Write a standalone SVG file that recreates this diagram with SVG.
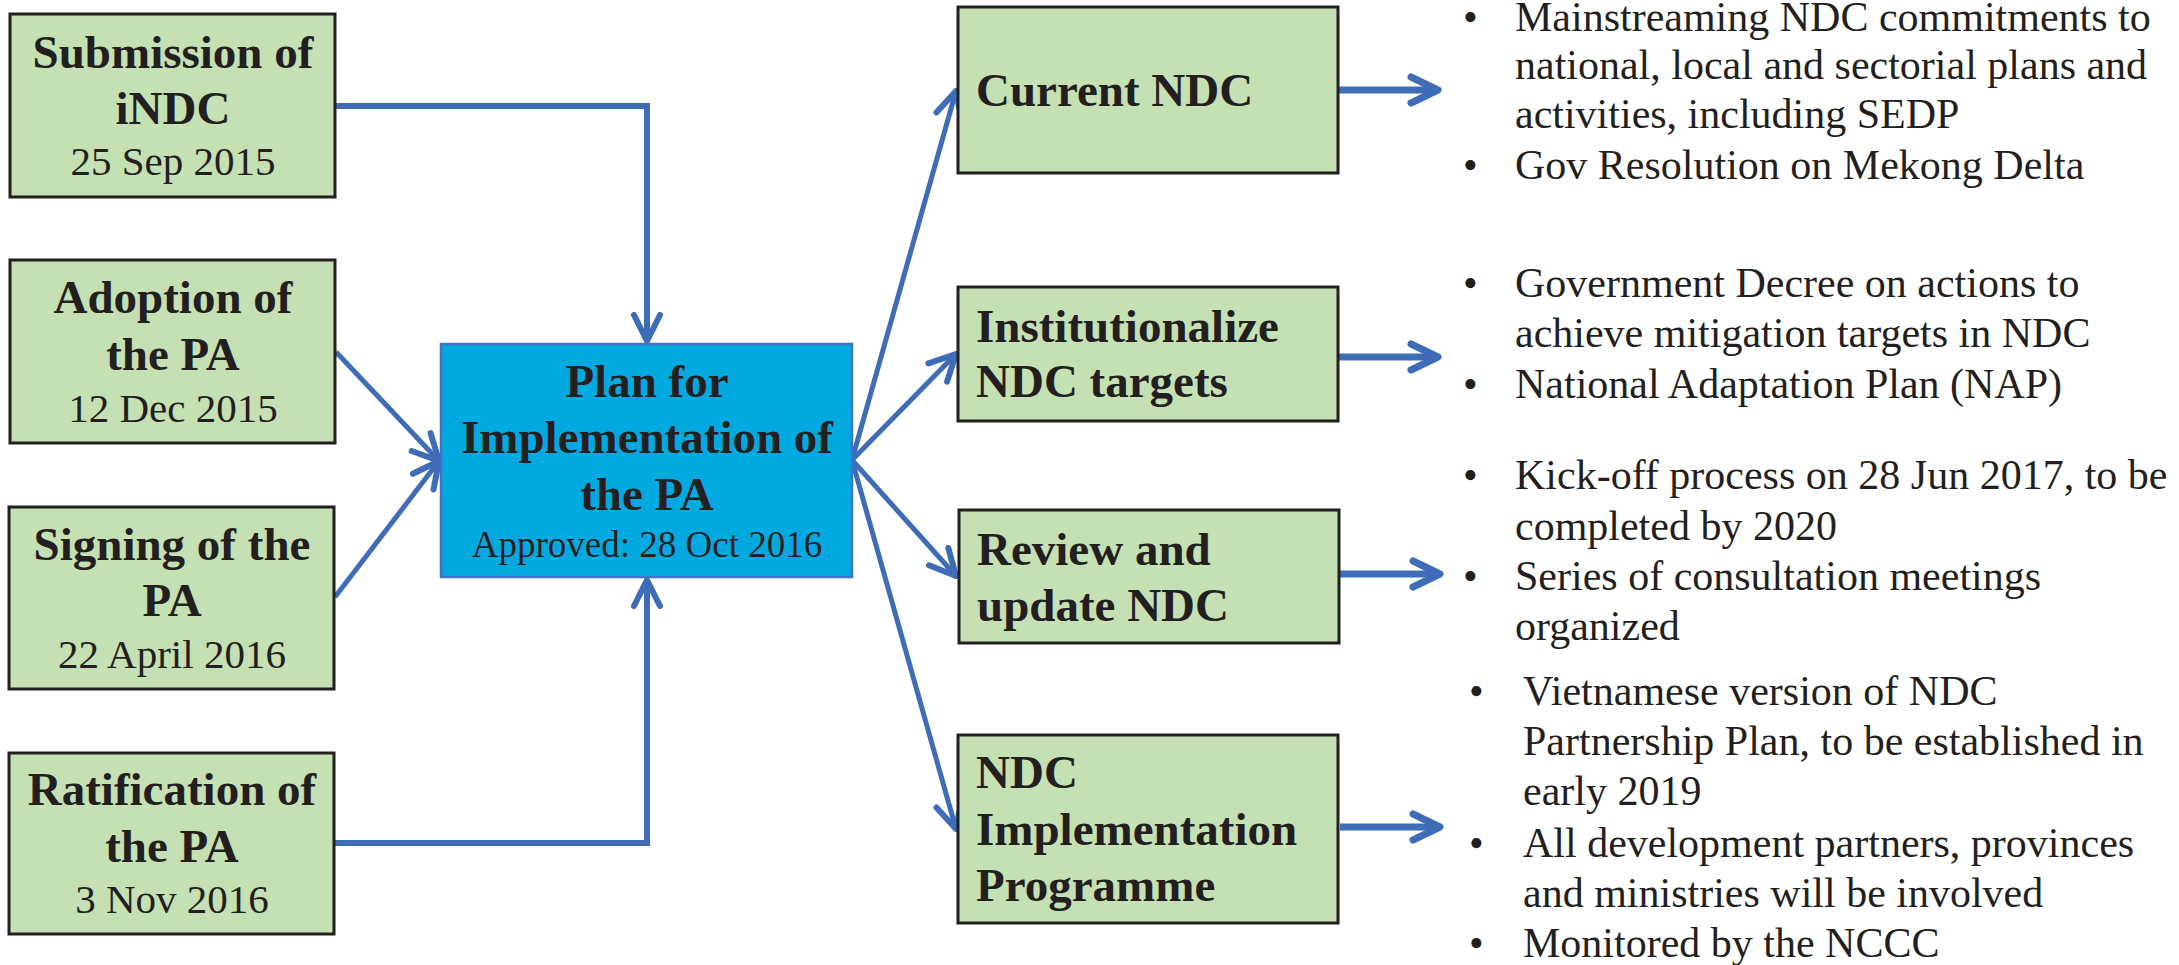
<svg xmlns="http://www.w3.org/2000/svg" width="2179" height="965" viewBox="0 0 2179 965">
<defs>
<style>
.box{fill:#C5E0B3;stroke:#231F20;stroke-width:3}
.main{fill:#00AAE1;stroke:#4472C4;stroke-width:2.5}
.b{font-family:"Liberation Serif","Times New Roman",serif;font-weight:bold;font-size:47px;fill:#231F20}
.d{font-family:"Liberation Serif","Times New Roman",serif;font-size:41px;fill:#231F20}
.ap{font-family:"Liberation Serif","Times New Roman",serif;font-size:37px;fill:#231F20}
.t{font-family:"Liberation Serif","Times New Roman",serif;font-size:42px;fill:#231F20}
.c{text-anchor:middle}
.ln{fill:none;stroke:#3F6CB7;stroke-width:6;marker-end:url(#arr)}
.dg{fill:none;stroke:#3F6CB7;stroke-width:5;marker-end:url(#arr)}
.hz{fill:none;stroke:#3F6CB7;stroke-width:7;marker-end:url(#arr2)}
</style>
<marker id="arr" markerUnits="userSpaceOnUse" viewBox="-32 -18 36 36" markerWidth="36" markerHeight="36" refX="0" refY="0" orient="auto" overflow="visible">
<path d="M-26,-13 L0,0 L-26,13" fill="none" stroke="#3F6CB7" stroke-width="6" stroke-linecap="round" stroke-linejoin="round"/>
</marker>
<marker id="arr2" markerUnits="userSpaceOnUse" viewBox="-34 -18 38 36" markerWidth="38" markerHeight="36" refX="0" refY="0" orient="auto" overflow="visible">
<path d="M-27,-13 L0,0 L-27,13" fill="none" stroke="#3F6CB7" stroke-width="7" stroke-linecap="round" stroke-linejoin="round"/>
</marker>
</defs>
<rect width="2179" height="965" fill="#FFFFFF"/>

<g id="connectors">
<polyline class="ln" points="336,106 647,106 647,341"/>
<polyline class="ln" points="335,843 647,843 647,580"/>
<line class="dg" x1="336" y1="352" x2="439" y2="461"/>
<line class="dg" x1="335" y1="597" x2="439" y2="461"/>
<line class="dg" x1="852" y1="460" x2="956" y2="91"/>
<line class="dg" x1="852" y1="460" x2="956" y2="354"/>
<line class="dg" x1="852" y1="460" x2="956" y2="576"/>
<line class="dg" x1="852" y1="460" x2="956" y2="829"/>
<line class="hz" x1="1338" y1="90" x2="1438" y2="90"/>
<line class="hz" x1="1338" y1="357" x2="1438" y2="357"/>
<line class="hz" x1="1340" y1="574" x2="1440" y2="574"/>
<line class="hz" x1="1340" y1="827" x2="1440" y2="827"/>
</g>

<g id="node-submission">
<rect class="box" x="10" y="14" width="325" height="183"/>
<text class="b c" x="173" y="68">Submission of</text>
<text class="b c" x="173" y="124">iNDC</text>
<text class="d c" x="173" y="175">25 Sep 2015</text>
</g>

<g id="node-adoption">
<rect class="box" x="10" y="260" width="325" height="183"/>
<text class="b c" x="173" y="313">Adoption of</text>
<text class="b c" x="173" y="370">the PA</text>
<text class="d c" x="173" y="422">12 Dec 2015</text>
</g>

<g id="node-signing">
<rect class="box" x="9" y="507" width="325" height="182"/>
<text class="b c" x="172" y="560">Signing of the</text>
<text class="b c" x="172" y="616">PA</text>
<text class="d c" x="172" y="668">22 April 2016</text>
</g>

<g id="node-ratification">
<rect class="box" x="9" y="753" width="325" height="181"/>
<text class="b c" x="172" y="805">Ratification of</text>
<text class="b c" x="172" y="862">the PA</text>
<text class="d c" x="172" y="913">3 Nov 2016</text>
</g>

<g id="node-plan">
<rect class="main" x="441" y="344" width="411" height="233"/>
<text class="b c" x="647" y="397">Plan for</text>
<text class="b c" x="647" y="453">Implementation of</text>
<text class="b c" x="647" y="510">the PA</text>
<text class="ap c" x="647" y="557">Approved: 28 Oct 2016</text>
</g>

<g id="node-current">
<rect class="box" x="958" y="7" width="380" height="166"/>
<text class="b" x="976" y="106">Current NDC</text>
</g>

<g id="node-institutionalize">
<rect class="box" x="958" y="287" width="380" height="134"/>
<text class="b" x="976" y="342">Institutionalize</text>
<text class="b" x="976" y="397">NDC targets</text>
</g>

<g id="node-review">
<rect class="box" x="959" y="510" width="380" height="133"/>
<text class="b" x="977" y="565">Review and</text>
<text class="b" x="977" y="621">update NDC</text>
</g>

<g id="node-programme">
<rect class="box" x="958" y="735" width="380" height="188"/>
<text class="b" x="976" y="788">NDC</text>
<text class="b" x="976" y="845">Implementation</text>
<text class="b" x="976" y="901">Programme</text>
</g>

<g id="notes-current">
<text class="t" x="1463" y="31">•</text>
<text class="t" x="1515" y="31">Mainstreaming NDC commitments to</text>
<text class="t" x="1515" y="79">national, local and sectorial plans and</text>
<text class="t" x="1515" y="128">activities, including SEDP</text>
<text class="t" x="1463" y="179">•</text>
<text class="t" x="1515" y="179">Gov Resolution on Mekong Delta</text>
</g>

<g id="notes-institutionalize">
<text class="t" x="1463" y="297">•</text>
<text class="t" x="1515" y="297">Government Decree on actions to</text>
<text class="t" x="1515" y="347">achieve mitigation targets in NDC</text>
<text class="t" x="1463" y="398">•</text>
<text class="t" x="1515" y="398">National Adaptation Plan (NAP)</text>
</g>

<g id="notes-review">
<text class="t" x="1463" y="489">•</text>
<text class="t" x="1515" y="489">Kick-off process on 28 Jun 2017, to be</text>
<text class="t" x="1515" y="540">completed by 2020</text>
<text class="t" x="1463" y="590">•</text>
<text class="t" x="1515" y="590">Series of consultation meetings</text>
<text class="t" x="1515" y="640">organized</text>
</g>

<g id="notes-programme">
<text class="t" x="1469" y="705">•</text>
<text class="t" x="1523" y="705">Vietnamese version of NDC</text>
<text class="t" x="1523" y="755">Partnership Plan, to be established in</text>
<text class="t" x="1523" y="805">early 2019</text>
<text class="t" x="1469" y="857">•</text>
<text class="t" x="1523" y="857">All development partners, provinces</text>
<text class="t" x="1523" y="907">and ministries will be involved</text>
<text class="t" x="1469" y="957">•</text>
<text class="t" x="1523" y="957">Monitored by the NCCC</text>
</g>
</svg>
